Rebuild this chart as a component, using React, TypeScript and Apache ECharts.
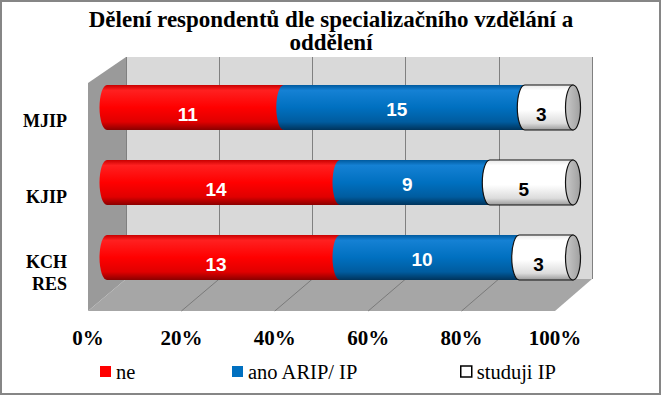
import React, { useEffect, useRef } from "react";
import * as echarts from "echarts";

const titleText = "Dělení respondentů dle specializačního vzdělání a\noddělení";
const categories = ["MJIP", "KJIP", "KCH\nRES"];
const seriesNames = ["ne", "ano ARIP/ IP", "studuji IP"];
const neValues = [11, 14, 13];
const anoValues = [15, 9, 10];
const studujiValues = [3, 5, 3];
const xTicks = [0, 20, 40, 60, 80, 100];

const SERIF = "Liberation Serif";
const SANS = "Liberation Sans";

// 3D box geometry (decoration only)
const FRONT = { left: 88, top: 83, width: 467, height: 228 };
const MID = { left: 107, top: 70, width: 466, height: 225 };
const BACK = { left: 126, top: 57, width: 466, height: 222 };

const gradients = [
  [
    { offset: 0, color: "#c80000" },
    { offset: 0.12, color: "#ff2020" },
    { offset: 0.5, color: "#ff0000" },
    { offset: 0.82, color: "#e00000" },
    { offset: 1, color: "#8a0000" },
  ],
  [
    { offset: 0, color: "#005a9e" },
    { offset: 0.12, color: "#1581d4" },
    { offset: 0.5, color: "#0070c0" },
    { offset: 0.82, color: "#005c9f" },
    { offset: 1, color: "#00345c" },
  ],
  [
    { offset: 0, color: "#e8e8e8" },
    { offset: 0.12, color: "#ffffff" },
    { offset: 0.55, color: "#ffffff" },
    { offset: 0.85, color: "#dcdcdc" },
    { offset: 1, color: "#9a9a9a" },
  ],
];
const solidColors = ["#ff0000", "#0070c0", "#ffffff"];
const labelColors = ["#ffffff", "#ffffff", "#000000"];
const labelDy = [7, 2, 7];

function buildData() {
  const all = [neValues, anoValues, studujiValues];
  const out: number[][][] = [[], [], []];
  categories.forEach((_, ci) => {
    const total = all.reduce((s, arr) => s + arr[ci], 0);
    let acc = 0;
    all.forEach((arr, si) => {
      const start = (acc / total) * 100;
      acc += arr[ci];
      const end = (acc / total) * 100;
      out[si].push([ci, start, end, arr[ci]]);
    });
  });
  return out;
}

export default function App() {
  const ref = useRef<HTMLDivElement>(null);
  useEffect(() => {
    if (!ref.current) return;
    const chart = echarts.init(ref.current, null, { renderer: "svg" });
    const data = buildData();

    const makeRender = (si: number) => (params: any, api: any) => {
      const cat = api.value(0);
      const start = api.value(1);
      const end = api.value(2);
      const count = api.value(3);
      const p0 = api.coord([start, cat]);
      const p1 = api.coord([end, cat]);
      const band = api.size([0, 1])[1];
      const h = band * 0.6;
      const cy = p0[1];
      const top = cy - h / 2;
      const bot = cy + h / 2;
      const rx = 7.5;
      const ry = h / 2;
      const x0 = p0[0];
      const x1 = p1[0];
      const segPath = `M ${x0} ${top} L ${x1} ${top} L ${x1} ${bot} L ${x0} ${bot} A ${rx} ${ry} 0 0 1 ${x0} ${top} Z`;
      const children: any[] = [
        {
          type: "path",
          shape: { pathData: segPath },
          style: {
            fill: new echarts.graphic.LinearGradient(0, 0, 0, 1, gradients[si]),
            stroke: si === 2 ? "#111" : "none",
            lineWidth: si === 2 ? 1.2 : 0,
          },
        },
      ];
      if (si === 2) {
        children.push({
          type: "path",
          shape: {
            pathData: `M ${x1 - rx} ${cy} A ${rx} ${ry} 0 1 0 ${x1 + rx} ${cy} A ${rx} ${ry} 0 1 0 ${x1 - rx} ${cy} Z`,
          },
          style: {
            fill: new echarts.graphic.LinearGradient(0, 0, 1, 0, [
              { offset: 0, color: "#c8c8c8" },
              { offset: 1, color: "#a0a0a0" },
            ]),
            stroke: "#111",
            lineWidth: 1.2,
          },
        });
      }
      children.push({
        type: "text",
        x: (x0 + x1) / 2 - rx,
        y: cy + labelDy[si],
        style: {
          text: String(count),
          fill: labelColors[si],
          fontFamily: SANS,
          fontSize: 19,
          fontWeight: "bold",
          align: "center",
          verticalAlign: "middle",
        },
      });
      return { type: "group", children };
    };

    const graphics: any[] = [];
    graphics.push({
      type: "polygon",
      z: 0,
      shape: {
        points: [
          [FRONT.left, FRONT.top],
          [BACK.left, BACK.top],
          [BACK.left, BACK.top + BACK.height],
          [FRONT.left, FRONT.top + FRONT.height],
        ],
      },
      style: { fill: "#9a9a9a" },
    });
    graphics.push({
      type: "polygon",
      z: 0,
      shape: {
        points: [
          [FRONT.left, FRONT.top + FRONT.height],
          [BACK.left, BACK.top + BACK.height],
          [BACK.left + BACK.width, BACK.top + BACK.height],
          [FRONT.left + FRONT.width, FRONT.top + FRONT.height],
        ],
      },
      style: { fill: "#a6a6a6" },
    });
    xTicks.forEach((t) => {
      if (t === 0 || t === 100) return;
      graphics.push({
        type: "line",
        z: 1,
        shape: {
          x1: BACK.left + (BACK.width * t) / 100,
          y1: BACK.top + BACK.height,
          x2: FRONT.left + (FRONT.width * t) / 100,
          y2: FRONT.top + FRONT.height,
        },
        style: { stroke: "#7a7a7a", lineWidth: 1 },
      });
    });
    graphics.push({
      type: "rect",
      z: 10,
      shape: { x: 1, y: 1, width: 659, height: 393 },
      style: { fill: "none", stroke: "#868686", lineWidth: 2 },
    });

    const legendBase = {
      top: 361,
      padding: 0,
      icon: "rect",
      itemWidth: 11,
      itemHeight: 11,
      itemGap: 5,
      textStyle: { fontFamily: SERIF, fontSize: 20.5, color: "#000" },
      selectedMode: false,
    };

    chart.setOption({
      animation: false,
      backgroundColor: "#ffffff",
      title: {
        text: titleText,
        left: "center",
        top: 8,
        padding: 0,
        textStyle: {
          fontFamily: SERIF,
          fontSize: 23,
          fontWeight: "bold",
          lineHeight: 23,
          color: "#000",
        },
      },
      legend: [
        { ...legendBase, left: 100, data: [{ name: seriesNames[0] }] },
        { ...legendBase, left: 232, data: [{ name: seriesNames[1] }] },
        {
          ...legendBase,
          left: 460,
          data: [
            {
              name: seriesNames[2],
              itemStyle: { color: "#ffffff", borderColor: "#000000", borderWidth: 1.5 },
            },
          ],
        },
      ],
      grid: [
        { left: MID.left, top: MID.top, width: MID.width, height: MID.height, containLabel: false },
        { left: FRONT.left, top: FRONT.top, width: FRONT.width, height: FRONT.height, containLabel: false },
        {
          left: BACK.left,
          top: BACK.top,
          width: BACK.width,
          height: BACK.height,
          containLabel: false,
          show: true,
          backgroundColor: "#d9d9d9",
          borderWidth: 0,
        },
      ],
      xAxis: [
        { gridIndex: 0, type: "value", min: 0, max: 100, show: false },
        {
          gridIndex: 1,
          type: "value",
          min: 0,
          max: 100,
          interval: 20,
          axisLine: { show: false },
          axisTick: { show: false },
          splitLine: { show: false },
          axisLabel: {
            formatter: "{value}%",
            margin: 16,
            fontFamily: SERIF,
            fontSize: 21,
            fontWeight: "bold",
            color: "#000",
          },
        },
        {
          gridIndex: 2,
          type: "value",
          min: 0,
          max: 100,
          interval: 20,
          axisLine: { show: false },
          axisTick: { show: false },
          axisLabel: { show: false },
          splitLine: { show: true, lineStyle: { color: "#808080", width: 1 } },
        },
      ],
      yAxis: [
        { gridIndex: 0, type: "category", data: categories, inverse: true, show: false },
        {
          gridIndex: 1,
          type: "category",
          data: categories,
          inverse: true,
          axisLine: { show: false },
          axisTick: { show: false },
          splitLine: { show: false },
          axisLabel: {
            margin: 21,
            fontFamily: SERIF,
            fontSize: 18,
            fontWeight: "bold",
            lineHeight: 22,
            color: "#000",
            align: "right",
          },
        },
        { gridIndex: 2, type: "category", data: categories, inverse: true, show: false },
      ],
      graphic: graphics,
      series: [0, 1, 2].map((si) => ({
        type: "custom",
        name: seriesNames[si],
        xAxisIndex: 0,
        yAxisIndex: 0,
        z: 5,
        itemStyle: { color: solidColors[si] },
        encode: { x: [1, 2], y: 0 },
        renderItem: makeRender(si),
        data: data[si],
      })),
    });
    return () => chart.dispose();
  }, []);
  return (
    <div
      ref={ref}
      style={{ position: "absolute", left: 0, top: 0, width: 662, height: 396 }}
    />
  );
}
